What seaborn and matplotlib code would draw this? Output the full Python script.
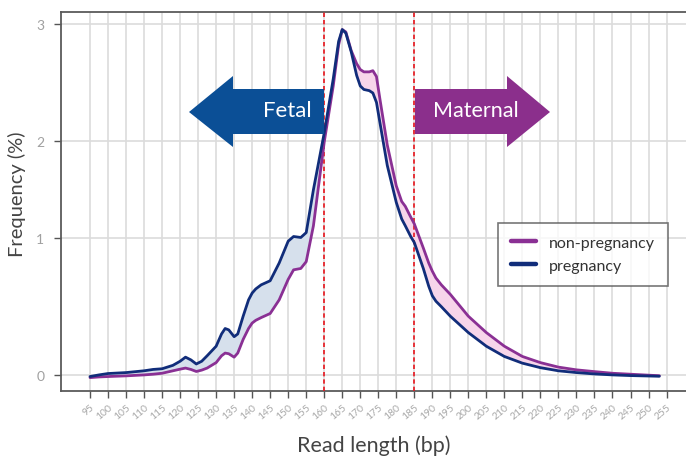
import numpy as np
import pandas as pd
import matplotlib
matplotlib.use("Agg")
import matplotlib.pyplot as plt
import seaborn as sns
from matplotlib.patches import Polygon

# Fragment size distribution (bp) and frequency (%) for both groups
read_length = [95, 97.5, 100, 105, 110, 112.5, 115, 118, 120, 121.5, 123, 124.5, 126, 127.5,
               130, 131.5, 132.5, 133.5, 135, 136, 137.5, 139, 140, 141, 142.5, 145, 147.5,
               150, 151.5, 153.5, 155, 157, 160, 162.5, 164, 165, 166, 167.5, 169, 170,
               171, 172.5, 173.5, 174.5, 175.5, 177.5, 180, 181.5, 182.5, 184, 185, 187.5,
               189, 190, 191, 192.5, 195, 197.5, 200, 205, 210, 215, 220, 225, 230,
               235, 240, 245, 250, 253]
freq_pregnancy = [-0.012, 0.0, 0.01, 0.017, 0.03, 0.04, 0.045, 0.07, 0.1, 0.13, 0.11, 0.08, 0.1, 0.14,
                  0.21, 0.3, 0.34, 0.33, 0.28, 0.3, 0.43, 0.55, 0.60, 0.63, 0.66, 0.69, 0.82,
                  0.98, 1.02, 1.01, 1.06, 1.50, 2.07, 2.53, 2.85, 2.95, 2.92, 2.76, 2.56, 2.47,
                  2.44, 2.43, 2.41, 2.33, 2.15, 1.75, 1.37, 1.2, 1.13, 1.02, 0.97, 0.78,
                  0.65, 0.58, 0.54, 0.50, 0.43, 0.37, 0.31, 0.21, 0.135, 0.086, 0.053, 0.03,
                  0.017, 0.007, 0.0, -0.005, -0.008, -0.01]
freq_non_pregnancy = [-0.02, -0.015, -0.012, -0.007, 0.0, 0.005, 0.012, 0.03, 0.042, 0.05, 0.04, 0.025, 0.035, 0.05,
                      0.09, 0.14, 0.16, 0.155, 0.13, 0.16, 0.26, 0.34, 0.38, 0.40, 0.42, 0.45, 0.55,
                      0.70, 0.77, 0.78, 0.83, 1.13, 1.99, 2.47, 2.82, 2.95, 2.93, 2.77, 2.66, 2.61,
                      2.59, 2.59, 2.60, 2.55, 2.35, 1.96, 1.54, 1.38, 1.33, 1.22, 1.15, 0.93,
                      0.82, 0.76, 0.71, 0.66, 0.59, 0.51, 0.43, 0.31, 0.21, 0.135, 0.09, 0.057,
                      0.037, 0.024, 0.012, 0.005, -0.002, -0.006]
groups = ["non-pregnancy", "pregnancy"]
x_ticks = list(range(95, 256, 5))
y_ticks = [0, 1, 2, 3]
fetal_cutoff = 160
maternal_cutoff = 185

NAVY = "#112d7a"
PURPLE = "#8a3094"
FETAL_BLUE = "#0b4f96"
MATERNAL_PURPLE = "#8b2f8c"

sns.set_theme(style="whitegrid")
plt.rcParams["font.family"] = ["Lato", "DejaVu Sans"]

W, H = 686, 460
fig = plt.figure(figsize=(W / 100, H / 100), dpi=100)
ax_left, ax_right, ax_top, ax_bottom = 61, 686, 13, 392
ax = fig.add_axes([ax_left / W, 1 - ax_bottom / H, (ax_right - ax_left) / W, (ax_bottom - ax_top) / H])

# stretched frequency axis
y_knots = [-1, 0, 1, 2, 3, 4]
y_pos = [-136, 0, 136, 233, 350, 467]
def _fwd(v):
    return np.interp(v, y_knots, y_pos)
def _inv(p):
    return np.interp(p, y_pos, y_knots)
ax.set_yscale("function", functions=(_fwd, _inv))

df = pd.DataFrame({
    "bp": read_length * 2,
    "freq": freq_non_pregnancy + freq_pregnancy,
    "group": [groups[0]] * len(read_length) + [groups[1]] * len(read_length),
})

x = np.array(read_length, dtype=float)
p = np.array(freq_pregnancy)
n = np.array(freq_non_pregnancy)
ax.fill_between(x, p, n, where=p >= n, interpolate=True, color="#d6e0ec", lw=0, zorder=2)
ax.fill_between(x, p, n, where=n > p, interpolate=True, color="#f7d5ea", lw=0, zorder=2)

for c in (fetal_cutoff, maternal_cutoff):
    ax.axvline(c, color="#e8141c", lw=1.2, ls=(0, (2.6, 1.8)), zorder=3)

sns.lineplot(data=df, x="bp", y="freq", hue="group", hue_order=groups,
             palette={groups[0]: PURPLE, groups[1]: NAVY}, linewidth=2.0,
             estimator=None, ax=ax, zorder=4)
for line in ax.get_lines():
    line.set_solid_joinstyle("round")

ax.set_xlim(86.95, 260.4)
ax.set_ylim(-0.118, 3.10)
ax.set_xticks(x_ticks)
ax.set_xticklabels([str(t) for t in x_ticks], rotation=40, ha="right", va="top",
                   rotation_mode="anchor", fontsize=7.5, color="#a8a8a8")
ax.set_yticks(y_ticks)
ax.set_yticklabels([str(t) for t in y_ticks], fontsize=10, color="#a0a0a0")
ax.tick_params(axis="both", bottom=True, left=True, length=5, width=1, color="#555555", pad=3)
ax.tick_params(axis="y", pad=7)
ax.grid(True, color="#dcdcdc", lw=1.2)
ax.set_axisbelow(True)
for s in ("left", "bottom", "top"):
    ax.spines[s].set_visible(True)
    ax.spines[s].set_color("#5a5a5a")
    ax.spines[s].set_linewidth(1.3)
ax.spines["right"].set_visible(False)
ax.set_facecolor("white")

ax.set_xlabel("Read length (bp)", fontsize=15.5, color="#444444", labelpad=10)
ax.set_ylabel("Frequency (%)", fontsize=14.5, color="#444444")
ax.yaxis.set_label_coords(-(61 - 26) / (ax_right - ax_left), (ax_bottom - 194) / (ax_bottom - ax_top))

# direction arrows
def px_to_axes(pts):
    return [((px - ax_left) / (ax_right - ax_left), (ax_bottom - py) / (ax_bottom - ax_top)) for px, py in pts]

fetal_pts = [(189, 113), (233, 77), (233, 90), (324, 90), (324, 135), (233, 135), (233, 148)]
maternal_pts = [(415, 90), (507, 90), (507, 77), (550, 113), (507, 148), (507, 135), (415, 135)]
ax.add_patch(Polygon(px_to_axes(fetal_pts), closed=True, transform=ax.transAxes,
                     facecolor=FETAL_BLUE, edgecolor="none", zorder=5))
ax.add_patch(Polygon(px_to_axes(maternal_pts), closed=True, transform=ax.transAxes,
                     facecolor=MATERNAL_PURPLE, edgecolor="none", zorder=5))
fx, fy = px_to_axes([(287, 111)])[0]
mx, my = px_to_axes([(476, 111)])[0]
ax.text(fx, fy, "Fetal", transform=ax.transAxes, ha="center", va="center",
        fontsize=16, color="white", zorder=6)
ax.text(mx, my, "Maternal", transform=ax.transAxes, ha="center", va="center",
        fontsize=15.5, color="white", zorder=6)

handles, labels = ax.get_legend_handles_labels()
leg = ax.legend(handles, labels, loc="upper left",
                bbox_to_anchor=((498 - ax_left) / (ax_right - ax_left), (ax_bottom - 224) / (ax_bottom - ax_top)),
                frameon=True, fancybox=False, fontsize=11.5, handlelength=1.6,
                borderpad=0.8, labelspacing=0.55, borderaxespad=0)
leg.get_frame().set_edgecolor("#555555")
leg.get_frame().set_linewidth(1.2)
for line in leg.get_lines():
    line.set_linewidth(3.2)
for t in leg.get_texts():
    t.set_color("#333333")

fig.savefig("out.png", dpi=100, facecolor="white")
